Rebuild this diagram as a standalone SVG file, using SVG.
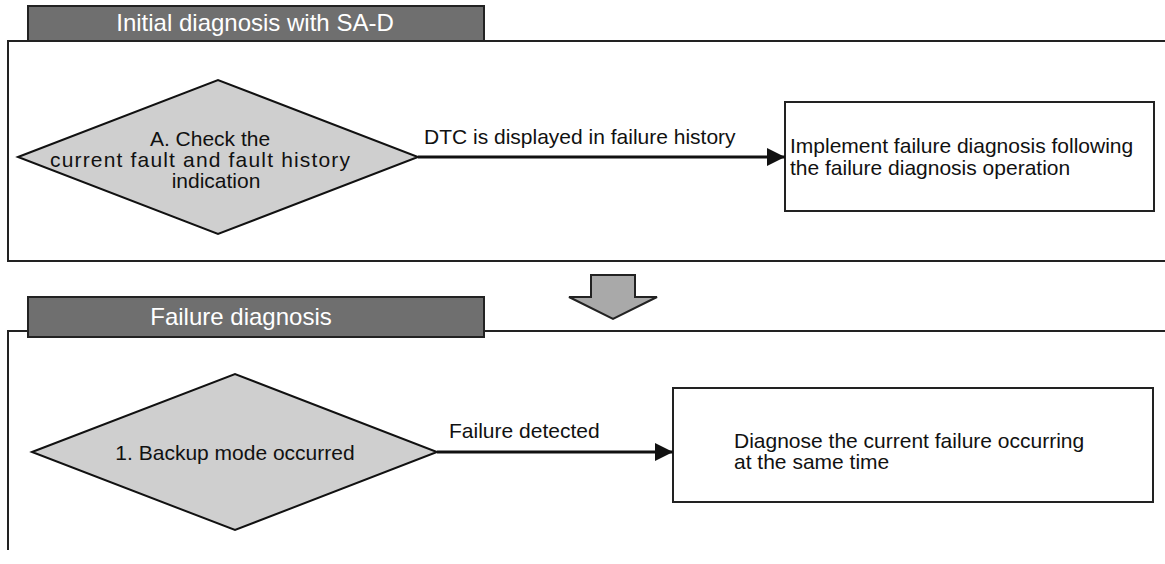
<svg xmlns="http://www.w3.org/2000/svg" width="1165" height="564" viewBox="0 0 1165 564">
  <defs>
    <style>
      .frame { fill: none; stroke: #222; stroke-width: 2; }
      .hdr { fill: #6f6f6f; stroke: #222; stroke-width: 2; }
      .hdrtxt { fill: #ffffff; font-family: "Liberation Sans", Arial, sans-serif; font-size: 24px; text-anchor: middle; }
      .dia { fill: #cfcfcf; stroke: #111; stroke-width: 2; }
      .box { fill: #ffffff; stroke: #222; stroke-width: 2; }
      .txt { fill: #111; font-family: "Liberation Sans", Arial, sans-serif; font-size: 21px; }
      .mid { text-anchor: middle; }
      .conn { stroke: #111; stroke-width: 3; fill: none; }
      .big { fill: #a9a9a9; stroke: #222; stroke-width: 2; }
    </style>
    <marker id="ah" viewBox="0 0 10 10" refX="10" refY="5" markerWidth="6" markerHeight="6" markerUnits="strokeWidth" orient="auto">
      <path d="M0,0 L10,5 L0,10 z" fill="#111"/>
    </marker>
  </defs>
  <rect width="1165" height="564" fill="#ffffff"/>

  <g id="section1-frame">
    <polyline class="frame" points="28,41 8,41 8,261 1165,261"/>
    <line class="frame" x1="484" y1="41" x2="1165" y2="41"/>
  </g>
  <g id="section1-header">
    <rect class="hdr" x="28" y="6" width="456" height="35"/>
    <text class="hdrtxt" x="255" y="31">Initial diagnosis with SA-D</text>
  </g>

  <g id="section2-frame">
    <polyline class="frame" points="28,331 8,331 8,550"/>
    <line class="frame" x1="484" y1="331" x2="1165" y2="331"/>
  </g>
  <g id="section2-header">
    <rect class="hdr" x="28" y="297" width="456" height="40"/>
    <text class="hdrtxt" x="241" y="325">Failure diagnosis</text>
  </g>

  <g id="nodeA">
    <polygon class="dia" points="18,157 218,80 418,157 218,234"/>
    <text class="txt mid" x="210" y="146">A. Check the</text>
    <text class="txt" x="50" y="167" textLength="300" lengthAdjust="spacing">current fault and fault history</text>
    <text class="txt mid" x="216" y="188">indication</text>
  </g>

  <g id="box1">
    <rect class="box" x="785" y="102" width="369" height="109"/>
    <text class="txt" x="790" y="153">Implement failure diagnosis following</text>
    <text class="txt" x="790" y="175">the failure diagnosis operation</text>
  </g>

  <g id="transition">
    <polygon class="big" points="591,275 635,275 635,297 657,297 613,319 569,297 591,297"/>
  </g>

  <g id="node1">
    <polygon class="dia" points="32,452 235,374 437,452 235,530"/>
    <text class="txt mid" x="235" y="460">1. Backup mode occurred</text>
  </g>

  <g id="box2">
    <rect class="box" x="673" y="388" width="480" height="114"/>
    <text class="txt" x="734" y="448">Diagnose the current failure occurring</text>
    <text class="txt" x="734" y="469">at the same time</text>
  </g>

  <g id="connectors">
    <line class="conn" x1="418" y1="157" x2="785" y2="157" marker-end="url(#ah)"/>
    <text class="txt" x="424" y="144">DTC is displayed in failure history</text>
    <line class="conn" x1="437" y1="452" x2="673" y2="452" marker-end="url(#ah)"/>
    <text class="txt" x="449" y="438">Failure detected</text>
  </g>
</svg>
